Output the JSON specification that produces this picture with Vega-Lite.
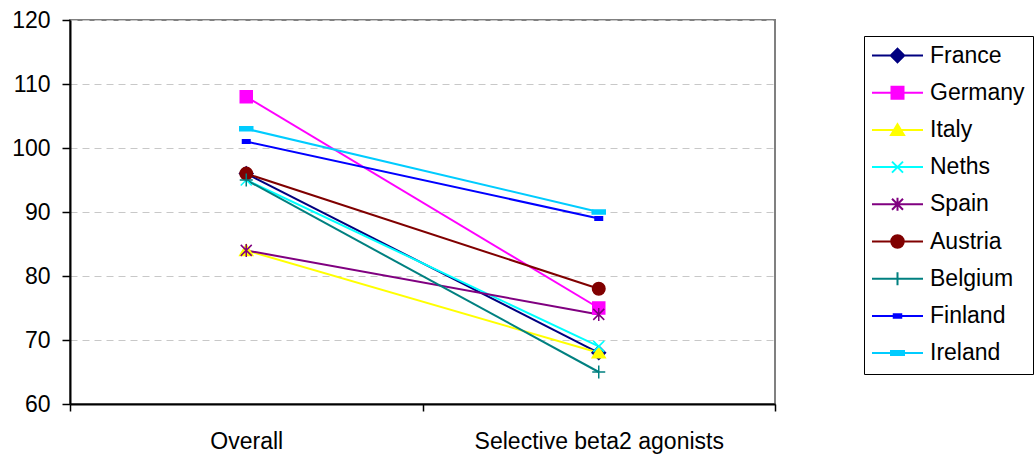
{
  "$schema": "https://vega.github.io/schema/vega-lite/v6.json",
  "autosize": {"type": "none"},
  "padding": {"left": 70, "top": 20, "right": 259, "bottom": 51},
  "width": 705,
  "height": 384,
  "background": "white",
  "data": {
    "values": [
      {"country": "France", "measure": "Overall", "value": 96},
      {"country": "France", "measure": "Selective beta2 agonists", "value": 68},
      {"country": "Germany", "measure": "Overall", "value": 108},
      {"country": "Germany", "measure": "Selective beta2 agonists", "value": 75},
      {"country": "Italy", "measure": "Overall", "value": 84},
      {"country": "Italy", "measure": "Selective beta2 agonists", "value": 68},
      {"country": "Neths", "measure": "Overall", "value": 95},
      {"country": "Neths", "measure": "Selective beta2 agonists", "value": 69},
      {"country": "Spain", "measure": "Overall", "value": 84},
      {"country": "Spain", "measure": "Selective beta2 agonists", "value": 74},
      {"country": "Austria", "measure": "Overall", "value": 96},
      {"country": "Austria", "measure": "Selective beta2 agonists", "value": 78},
      {"country": "Belgium", "measure": "Overall", "value": 95},
      {"country": "Belgium", "measure": "Selective beta2 agonists", "value": 65},
      {"country": "Finland", "measure": "Overall", "value": 101},
      {"country": "Finland", "measure": "Selective beta2 agonists", "value": 89},
      {"country": "Ireland", "measure": "Overall", "value": 103},
      {"country": "Ireland", "measure": "Selective beta2 agonists", "value": 90}
    ]
  },
  "encoding": {
    "x": {
      "field": "measure",
      "type": "nominal",
      "bandPosition": 0.5,
      "sort": ["Overall", "Selective beta2 agonists"],
      "scale": {"type": "band", "paddingInner": 0, "paddingOuter": 0},
      "axis": {
        "title": null,
        "labelAngle": 0,
        "labelLimit": 400,
        "tickBand": "extent",
        "tickSize": 7,
        "labelPadding": 19,
        "grid": false
      }
    },
    "y": {
      "field": "value",
      "type": "quantitative",
      "scale": {"domain": [60, 120], "nice": false, "zero": false},
      "axis": {
        "title": null,
        "values": [60, 70, 80, 90, 100, 110, 120],
        "tickSize": 8,
        "labelPadding": 12,
        "grid": true,
        "gridDash": [7, 5],
        "gridColor": "#c8c8c8",
        "gridWidth": 1
      }
    },
    "color": {
      "field": "country",
      "type": "nominal",
      "sort": ["France", "Germany", "Italy", "Neths", "Spain", "Austria", "Belgium", "Finland", "Ireland"],
      "scale": {
        "domain": ["France", "Germany", "Italy", "Neths", "Spain", "Austria", "Belgium", "Finland", "Ireland"],
        "range": ["#000080", "#ff00ff", "#ffff00", "#00ffff", "#800080", "#800000", "#008080", "#0000ff", "#00ccff"]
      },
      "legend": {
        "title": null,
        "orient": "none",
        "legendX": 794,
        "legendY": 16,
        "padding": 8,
        "rowPadding": 13.2,
        "strokeColor": "#000000",
        "fillColor": "#ffffff",
        "labelFont": "Liberation Sans",
        "labelFontSize": 23,
        "labelColor": "#000000",
        "labelLimit": 300,
        "symbolSize": 100,
        "symbolOffset": 14,
        "labelOffset": 21,
        "symbolStrokeWidth": 2,
        "symbolOpacity": 1,
        "encode": {
          "symbols": {
            "update": {
              "shape": {"signal": "'M-5.1,0L5.1,0' + scale('shape', datum.value)"},
              "fill": {"signal": "scale('color', datum.value)"},
              "stroke": {"signal": "scale('color', datum.value)"},
              "strokeWidth": {"value": 2}
            }
          }
        }
      }
    }
  },
  "layer": [
    {
      "mark": {"type": "line", "strokeWidth": 2},
      "encoding": {"detail": {"field": "country"}}
    },
    {
      "mark": {"type": "point", "filled": true, "opacity": 1, "size": 100, "strokeWidth": 1.5},
      "encoding": {
        "shape": {
          "field": "country",
          "type": "nominal",
          "scale": {
            "domain": ["Ireland", "Finland", "Belgium", "Austria", "Spain", "Neths", "Italy", "Germany", "France"],
            "range": [
              "M-1.3,-0.4L1.3,-0.4L1.3,0.4L-1.3,0.4Z",
              "M-0.75,-0.35L0.75,-0.35L0.75,0.35L-0.75,0.35Z",
              "M-1.3,0L1.3,0M0,-1.3L0,1.3",
              "M-1.25,0A1.25,1.25,0,1,0,1.25,0A1.25,1.25,0,1,0,-1.25,0Z",
              "M-1.1,-1.1L1.1,1.1M-1.1,1.1L1.1,-1.1M0,-1.3L0,1.3",
              "M-1.1,-1.1L1.1,1.1M-1.1,1.1L1.1,-1.1",
              "M0,-1.15L1.3,1L-1.3,1Z",
              "M-1.2,-1.2L1.2,-1.2L1.2,1.2L-1.2,1.2Z",
              "M0,-1.35L1.35,0L0,1.35L-1.35,0Z"
            ]
          },
          "legend": null
        },
        "stroke": {
          "field": "country",
          "type": "nominal",
          "scale": {
            "domain": ["France", "Germany", "Italy", "Neths", "Spain", "Austria", "Belgium", "Finland", "Ireland"],
            "range": ["#000080", "#ff00ff", "#ffff00", "#00ffff", "#800080", "#800000", "#008080", "#0000ff", "#00ccff"]
          },
          "legend": null
        }
      }
    }
  ],
  "config": {
    "view": {"stroke": "#808080", "strokeWidth": 2},
    "axis": {
      "labelFont": "Liberation Sans",
      "labelFontSize": 23,
      "labelColor": "#000000",
      "domainColor": "#000000",
      "domainWidth": 2,
      "tickColor": "#000000",
      "tickWidth": 1.5
    }
  }
}
